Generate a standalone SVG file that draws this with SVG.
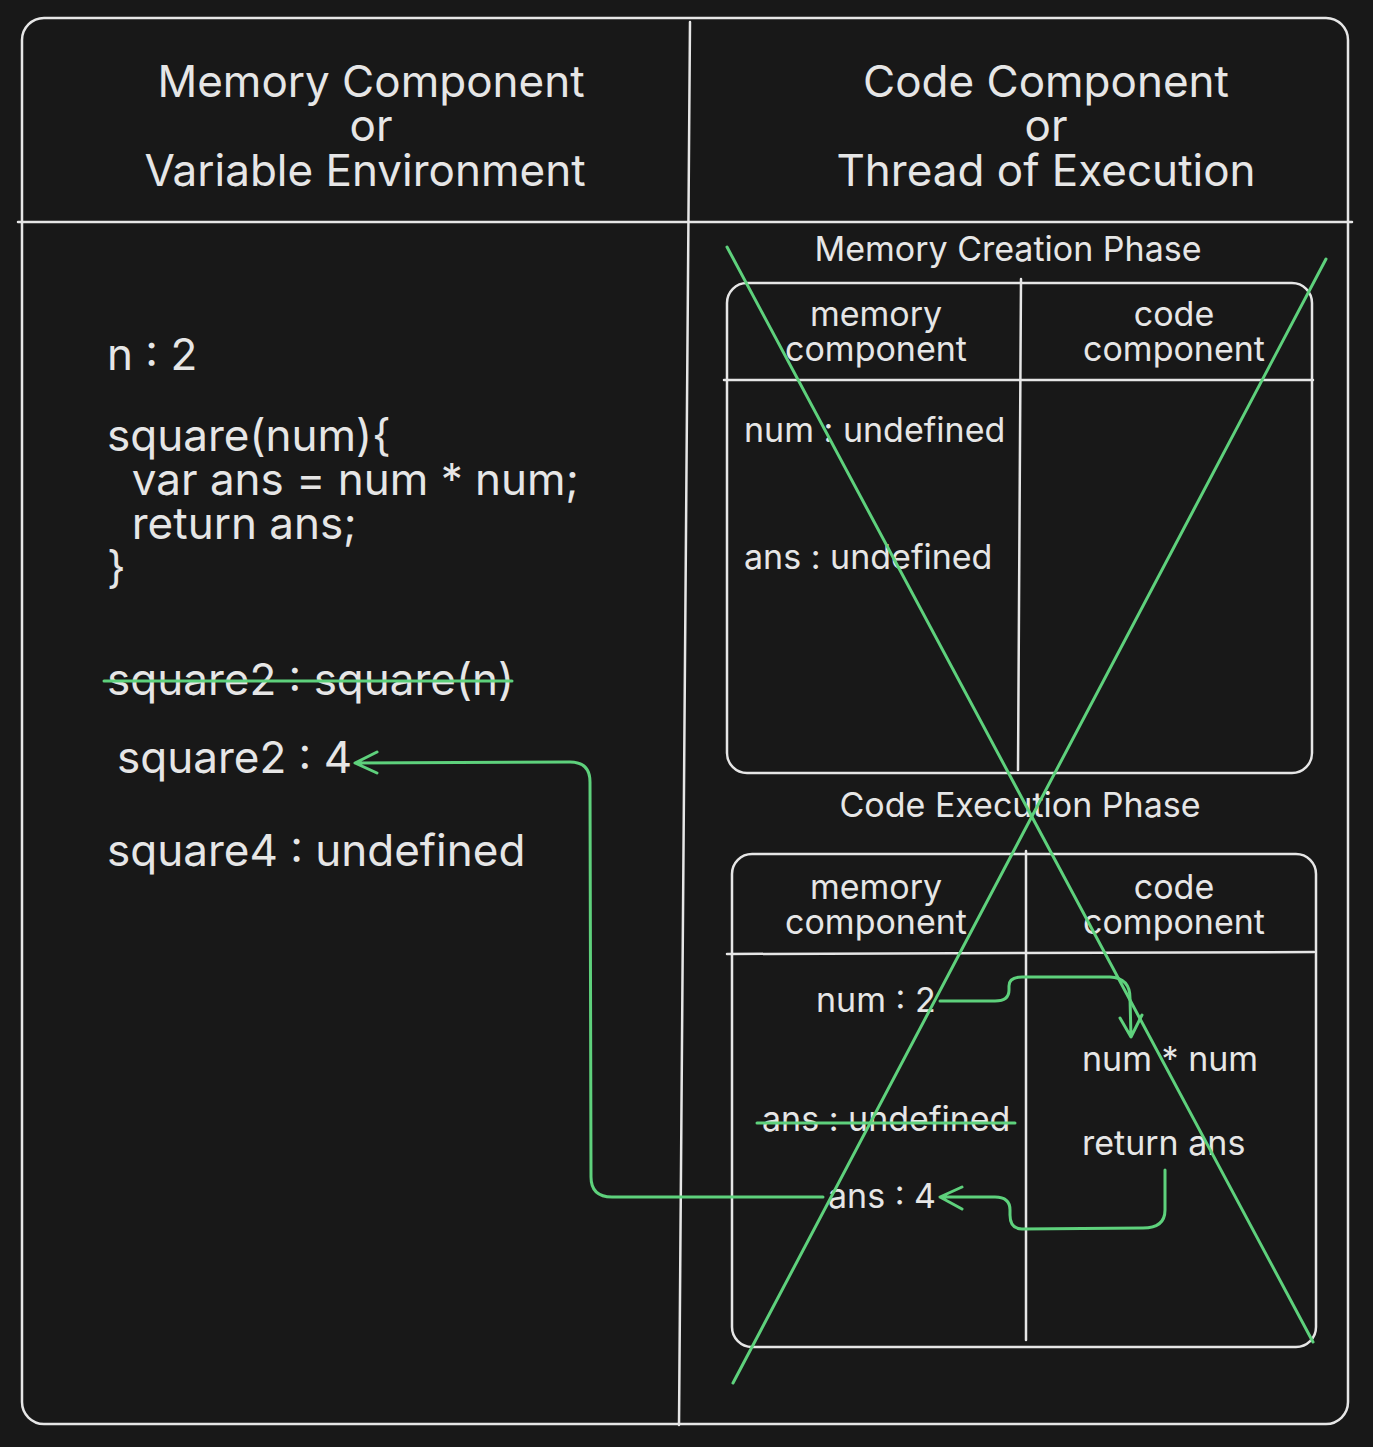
<svg xmlns="http://www.w3.org/2000/svg" width="1373" height="1447" viewBox="0 0 1373 1447">
<style>
.bg{fill:#181818}
.frame{fill:none;stroke:#e6e6e6;stroke-width:2.5;stroke-linecap:round}
.t{fill:#e6e6e6;font-family:Inter,"Liberation Sans",sans-serif}
.h{font-size:44px;text-anchor:middle}
.c{font-size:44px}
.p{font-size:34px;text-anchor:middle}
.s{font-size:34px}
.g{fill:none;stroke:#5ed17c;stroke-width:3;stroke-linecap:round;stroke-linejoin:round}
</style>
<rect class="bg" x="0" y="0" width="1373" height="1447"/>
<g id="outer-frame">
  <rect class="frame" x="22" y="18" width="1326" height="1406" rx="22"/>
  <line class="frame" x1="690" y1="22" x2="679" y2="1425"/>
  <line class="frame" x1="18" y1="222" x2="1352" y2="222"/>
</g>
<g id="memory-header">
  <text class="t h" x="371" y="97">Memory Component</text>
  <text class="t h" x="371" y="141">or</text>
  <text class="t h" x="365" y="186">Variable Environment</text>
</g>
<g id="code-header">
  <text class="t h" x="1046" y="97">Code Component</text>
  <text class="t h" x="1046" y="141">or</text>
  <text class="t h" x="1046" y="186">Thread of Execution</text>
</g>
<g id="global-memory">
  <text class="t c" x="107" y="370">n : 2</text>
  <text class="t c" x="107" y="451">square(num){</text>
  <text class="t c" x="107" y="495" xml:space="preserve">  var ans = num * num;</text>
  <text class="t c" x="107" y="539" xml:space="preserve">  return ans;</text>
  <text class="t c" x="107" y="583">}</text>
  <text class="t c" x="107" y="695">square2 : square(n)</text>
  <text class="t c" x="117" y="773">square2 : 4</text>
  <text class="t c" x="107" y="866">square4 : undefined</text>
</g>
<g id="memory-creation-phase">
  <text class="t p" x="1008" y="261">Memory Creation Phase</text>
  <rect class="frame" x="727" y="283" width="585" height="490" rx="20"/>
  <line class="frame" x1="1021" y1="279" x2="1018" y2="770"/>
  <line class="frame" x1="724" y1="380" x2="1313" y2="380"/>
  <text class="t p" x="876" y="326">memory</text>
  <text class="t p" x="876" y="361">component</text>
  <text class="t p" x="1174" y="326">code</text>
  <text class="t p" x="1174" y="361">component</text>
  <text class="t s" x="744" y="442">num : undefined</text>
  <text class="t s" x="744" y="569">ans : undefined</text>
</g>
<g id="code-execution-phase">
  <text class="t p" x="1020" y="817">Code Execution Phase</text>
  <rect class="frame" x="732" y="854" width="584" height="493" rx="20"/>
  <line class="frame" x1="1026" y1="851" x2="1026" y2="1340"/>
  <line class="frame" x1="727" y1="954" x2="1314" y2="952"/>
  <text class="t p" x="876" y="899">memory</text>
  <text class="t p" x="876" y="934">component</text>
  <text class="t p" x="1174" y="899">code</text>
  <text class="t p" x="1174" y="934">component</text>
  <text class="t s" x="816" y="1012">num : 2</text>
  <text class="t s" x="762" y="1131">ans : undefined</text>
  <text class="t s" x="828" y="1208">ans : 4</text>
  <text class="t s" x="1082" y="1071">num * num</text>
  <text class="t s" x="1082" y="1155">return ans</text>
</g>
<g id="connectors">
  <line class="g" x1="727" y1="247" x2="1313" y2="1342"/>
  <line class="g" x1="1326" y1="259" x2="733" y2="1383"/>
  <line class="g" x1="104" y1="681" x2="512" y2="681"/>
  <line class="g" x1="757" y1="1123" x2="1015" y2="1123"/>
  <path class="g" d="M823 1197 L612 1197 Q591 1197 591 1177 L590 782 Q590 762 570 762 L355 763 M377 752 L355 763 L377 773"/>
  <path class="g" d="M940 1001 L995 1001 Q1009 1001 1009 990 L1009 986 Q1009 977 1022 977 L1110 977 Q1130 978 1130 998 L1131 1037 M1120 1018 L1131 1037 L1142 1015"/>
  <path class="g" d="M1165 1170 L1165 1210 Q1165 1228 1143 1228 L1022 1229 Q1010 1229 1010 1215 L1010 1210 Q1010 1197 995 1197 L940 1197 M962 1187 L940 1197 L962 1209"/>
</g>
</svg>
